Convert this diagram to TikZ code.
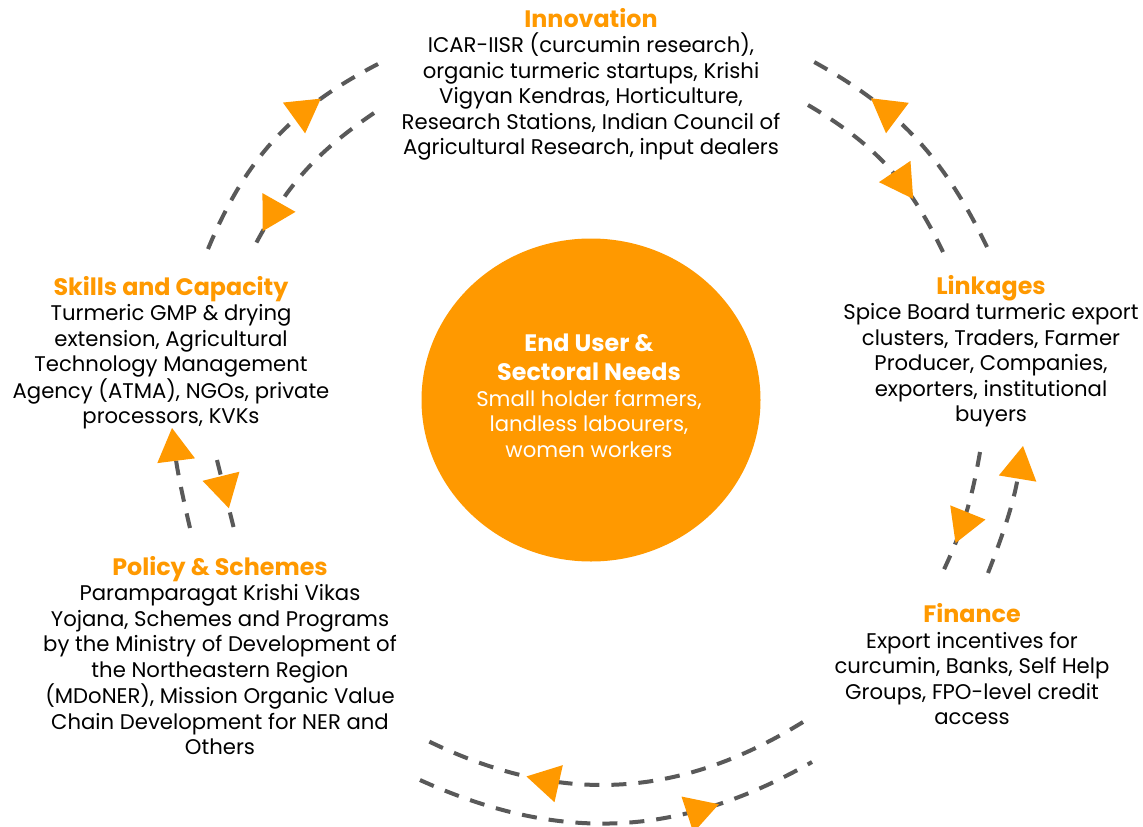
\documentclass[tikz,border=0pt]{standalone}
\usepackage{fontspec}
\setmainfont{Poppins}
\usetikzlibrary{positioning, shapes.geometric, arrows.meta, decorations.markings}

\definecolor{amber}{HTML}{FF9900}
\definecolor{slate}{HTML}{595959}

\newcommand{\headfont}{\fontsize{23.8}{25.5}\selectfont\bfseries}
\newcommand{\bodyfont}{\fontsize{21.2}{25.5}\selectfont}
\newcommand{\blocktitle}[1]{{\headfont\color{amber}#1}}

\tikzset{
  flowtip/.tip={Triangle[length=33pt, width=38pt, color=amber, line width=0pt]},
  group/.style={font=\bodyfont, align=center, inner sep=0pt, anchor=north},
  hub/.style={ellipse, fill=amber, minimum width=339pt, minimum height=323pt, inner sep=0pt},
  link/.style={draw=slate, line width=4pt, dash pattern=on 15pt off 12pt},
  mid/.style={postaction={decorate, decoration={markings,
      mark=at position #1 with {\arrow{flowtip}}}}},
}

\begin{document}
\begin{tikzpicture}[x=1pt, y=1pt]
  \fill[white] (0,0) rectangle (1143,-827);
  \useasboundingbox (0,0) rectangle (1143,-827);

  % centre circle
  \node[hub] (hub) at (591,-400) {};
  \node[group, text=white] (needs) at (589,-334)
    {{\headfont End User \&}\\[3.5pt]
     {\headfont Sectoral Needs}\\
     Small holder farmers,\\
     landless labourers,\\
     women workers};

  % the five sectors round it
  \node[group] (innov) at (591,-8) {\blocktitle{Innovation}\\
    ICAR-IISR (curcumin research),\\
    organic turmeric startups, Krishi\\
    Vigyan Kendras, Horticulture,\\
    Research Stations, Indian Council of\\
    Agricultural Research, input dealers};
  \node[group] (links) at (991,-275) {\blocktitle{Linkages}\\
    Spice Board turmeric export\\
    clusters, Traders, Farmer\\
    Producer, Companies,\\
    exporters, institutional\\
    buyers};
  \node[group] (finance) at (972,-603.5) {\blocktitle{Finance}\\
    Export incentives for\\
    curcumin, Banks, Self Help\\
    Groups, FPO-level credit\\
    access};
  \node[group] (policy) at (220,-556) {\blocktitle{Policy \& Schemes}\\
    Paramparagat Krishi Vikas\\
    Yojana, Schemes and Programs\\
    by the Ministry of Development of\\
    the Northeastern Region\\
    (MDoNER), Mission Organic Value\\
    Chain Development for NER and\\
    Others};
  \node[group] (skills) at (171,-276) {\blocktitle{Skills and Capacity}\\
    Turmeric GMP \& drying\\
    extension, Agricultural\\
    Technology Management\\
    Agency (ATMA), NGOs, private\\
    processors, KVKs};

  % loose ends of the loops
  \coordinate (si1) at (208,-249);  \coordinate (si2) at (378,-64);
  \coordinate (is1) at (374,-113);  \coordinate (is2) at (253,-249);
  \coordinate (li1) at (987,-247);  \coordinate (li2) at (805,-57);
  \coordinate (il1) at (808,-105);  \coordinate (il2) at (943,-252);
  \coordinate (lf1) at (980,-452);  \coordinate (lf2) at (939,-580);
  \coordinate (fl1) at (988,-573);  \coordinate (fl2) at (1023,-446);
  \coordinate (fp1) at (803,-722);  \coordinate (fp2) at (426,-740);
  \coordinate (pf1) at (420,-780);  \coordinate (pf2) at (812,-762);
  \coordinate (ps1) at (190,-528);  \coordinate (ps2) at (172,-428);
  \coordinate (sp1) at (217,-460);  \coordinate (sp2) at (234,-529);

  % two-way dashed loops
  \draw[link, mid=0.74] (si1) to[bend left=20] (si2);
  \draw[link, mid=0.89] (is1) to[bend right=14] (is2);
  \draw[link, mid=0.71] (li1) to[bend right=18] (li2);
  \draw[link, mid=0.70] (il1) to[bend left=17] (il2);
  \draw[link, mid=0.70] (lf1) to[bend left=8] (lf2);
  \draw[link, -{flowtip}] (fl1) to[bend right=6] (fl2);
  \draw[link, mid=0.73] (fp1) to[bend left=29] (fp2);
  \draw[link, mid=0.75] (pf1) to[bend right=27] (pf2);
  \draw[link, -{flowtip}] (ps1) to[bend left=3] (ps2);
  \draw[link, mid=0.70] (sp1) -- (sp2);
\end{tikzpicture}
\end{document}
